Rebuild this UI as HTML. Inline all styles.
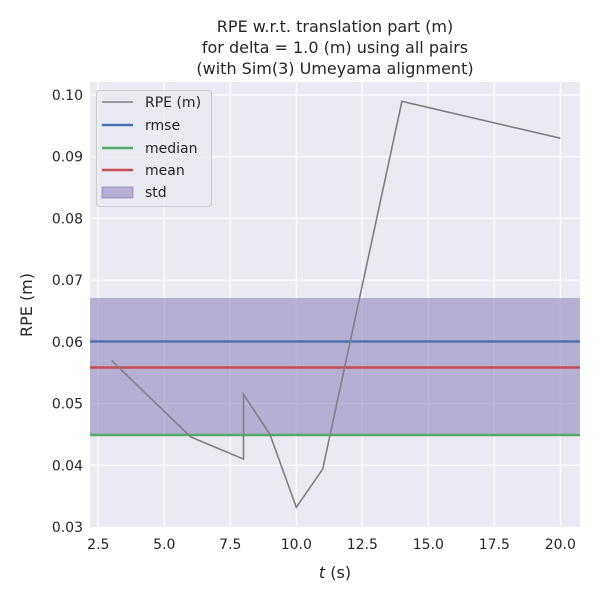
<!DOCTYPE html>
<html><head><style>body{margin:0;background:#fff}</style></head><body>
<svg width="600" height="600" xmlns="http://www.w3.org/2000/svg" font-family="DejaVu Sans, Liberation Sans, sans-serif">
<rect width="600" height="600" fill="#fff"/>
<rect x="90" y="82" width="490" height="445" fill="#eaeaf2"/>
<g stroke="#fff" stroke-width="1.2">
<line x1="98.3" y1="82" x2="98.3" y2="527"/><line x1="164.3" y1="82" x2="164.3" y2="527"/><line x1="230.3" y1="82" x2="230.3" y2="527"/><line x1="296.3" y1="82" x2="296.3" y2="527"/><line x1="362.3" y1="82" x2="362.3" y2="527"/><line x1="428.3" y1="82" x2="428.3" y2="527"/><line x1="494.3" y1="82" x2="494.3" y2="527"/><line x1="560.3" y1="82" x2="560.3" y2="527"/>
<line x1="90" y1="95" x2="580" y2="95"/><line x1="90" y1="156.7" x2="580" y2="156.7"/><line x1="90" y1="218.4" x2="580" y2="218.4"/><line x1="90" y1="280.1" x2="580" y2="280.1"/><line x1="90" y1="341.9" x2="580" y2="341.9"/><line x1="90" y1="403.6" x2="580" y2="403.6"/><line x1="90" y1="465.3" x2="580" y2="465.3"/>
</g>
<rect x="90" y="298" width="490" height="137" fill="#8172b3" fill-opacity="0.5"/>
<line x1="90" y1="341.5" x2="580" y2="341.5" stroke="#4c72b0" stroke-width="2.5"/>
<line x1="90" y1="435" x2="580" y2="435" stroke="#55a868" stroke-width="2.5"/>
<line x1="90" y1="367.5" x2="580" y2="367.5" stroke="#c44e52" stroke-width="2.5"/>
<polyline fill="none" stroke="#808080" stroke-width="1.6" points="111.5,360.4 190.7,436.9 243.5,459.1 243.5,394.3 269.9,434.4 296.3,507.3 322.7,469.1 401.9,101.4 560.3,138.2"/>
<g font-size="14" fill="#262626" text-anchor="middle">
<text x="98.3" y="549">2.5</text><text x="164.3" y="549">5.0</text><text x="230.3" y="549">7.5</text><text x="296.3" y="549">10.0</text><text x="362.3" y="549">12.5</text><text x="428.3" y="549">15.0</text><text x="494.3" y="549">17.5</text><text x="560.3" y="549">20.0</text>
</g>
<g font-size="14" fill="#262626" text-anchor="end">
<text x="83" y="100">0.10</text><text x="83" y="161.7">0.09</text><text x="83" y="223.4">0.08</text><text x="83" y="285.1">0.07</text><text x="83" y="346.9">0.06</text><text x="83" y="408.6">0.05</text><text x="83" y="470.3">0.04</text><text x="83" y="532">0.03</text>
</g>
<text x="335" y="578" font-size="16" fill="#262626" text-anchor="middle"><tspan font-style="italic">t</tspan> (s)</text>
<text transform="translate(32,305) rotate(-90)" font-size="16" fill="#262626" text-anchor="middle">RPE (m)</text>
<g font-size="16" fill="#262626" text-anchor="middle">
<text x="335" y="32">RPE w.r.t. translation part (m)</text>
<text x="335" y="53">for delta = 1.0 (m) using all pairs</text>
<text x="335" y="74">(with Sim(3) Umeyama alignment)</text>
</g>
<rect x="96.5" y="90.5" width="115" height="116" rx="3" fill="#eaeaf2" fill-opacity="0.8" stroke="#ccc"/>
<g font-size="14" fill="#262626">
<line x1="102" y1="102" x2="133" y2="102" stroke="#808080" stroke-width="1.6"/><text x="145" y="107">RPE (m)</text>
<line x1="102" y1="125" x2="133" y2="125" stroke="#4c72b0" stroke-width="2.5"/><text x="145" y="130">rmse</text>
<line x1="102" y1="148" x2="133" y2="148" stroke="#55a868" stroke-width="2.5"/><text x="145" y="153">median</text>
<line x1="102" y1="170" x2="133" y2="170" stroke="#c44e52" stroke-width="2.5"/><text x="145" y="175">mean</text>
<rect x="102" y="187" width="31" height="11" fill="#8172b3" fill-opacity="0.5" stroke="#8172b3" stroke-opacity="0.6"/><text x="145" y="197">std</text>
</g>
</svg>
</body></html>
